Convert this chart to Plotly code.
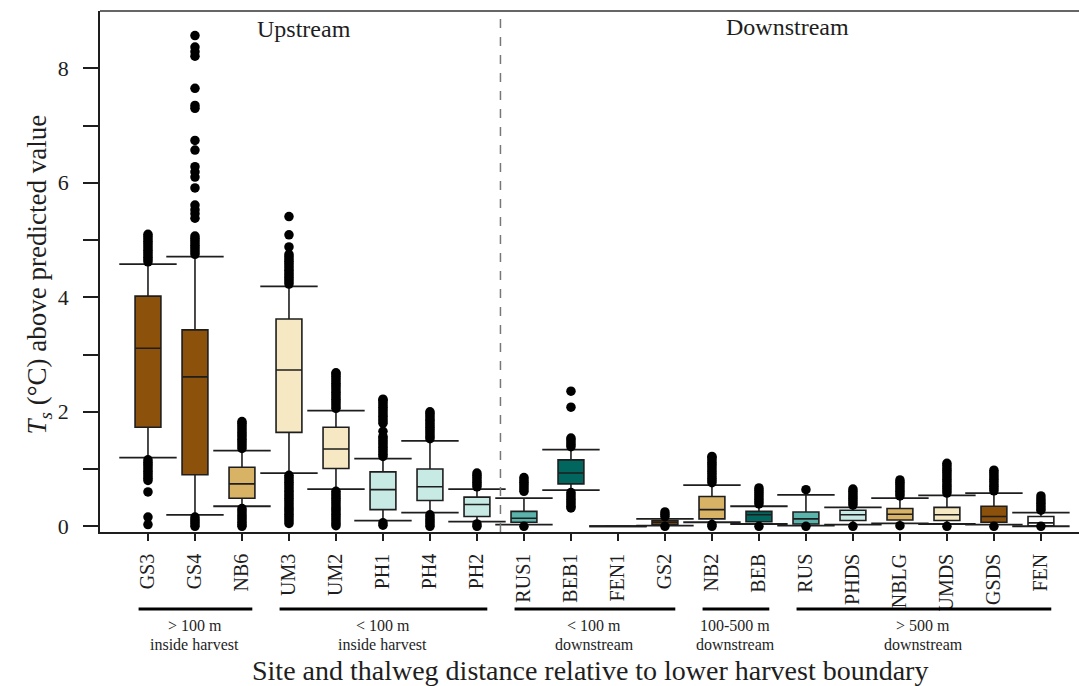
import plotly.graph_objects as go

# ---------------- data ----------------
sites = ["GS3", "GS4", "NB6", "UM3", "UM2", "PH1", "PH4", "PH2",
         "RUS1", "BEB1", "FEN1", "GS2", "NB2", "BEB", "RUS", "PHDS",
         "NBLG", "UMDS", "GSDS", "FEN"]

q1 = [1.73, 0.90, 0.49, 1.64, 1.01, 0.29, 0.45, 0.17,
      0.07, 0.74, 0.00, 0.03, 0.13, 0.08, 0.04, 0.10,
      0.11, 0.10, 0.07, 0.01]
median = [3.11, 2.61, 0.74, 2.73, 1.35, 0.64, 0.69, 0.38,
          0.14, 0.93, 0.00, 0.07, 0.29, 0.20, 0.13, 0.20,
          0.21, 0.20, 0.17, 0.06]
q3 = [4.02, 3.43, 1.03, 3.62, 1.73, 0.95, 1.00, 0.51,
      0.26, 1.16, 0.00, 0.10, 0.52, 0.26, 0.25, 0.28,
      0.31, 0.33, 0.35, 0.17]
upper_whisker = [4.58, 4.71, 1.32, 4.19, 2.02, 1.18, 1.49, 0.65,
                 0.49, 1.34, 0.00, 0.13, 0.72, 0.35, 0.55, 0.33,
                 0.49, 0.54, 0.58, 0.24]
lower_whisker = [1.20, 0.20, 0.35, 0.93, 0.65, 0.10, 0.24, 0.08,
                 0.03, 0.63, 0.00, 0.01, 0.07, 0.04, 0.01, 0.03,
                 0.05, 0.04, 0.03, 0.00]

outliers = {
    "GS3": [4.62, 4.66, 4.70, 4.74, 4.78, 4.82, 4.86, 4.90, 4.94, 4.98, 5.02, 5.06, 5.10,
            1.16, 1.12, 1.08, 1.04, 1.00, 0.96, 0.92, 0.88, 0.84, 0.80, 0.60, 0.16, 0.03],
    "GS4": [4.75, 4.79, 4.83, 4.87, 4.91, 4.95, 4.99, 5.03, 5.07, 5.38, 5.46, 5.53, 5.61,
            5.91, 6.10, 6.19, 6.28, 6.57, 6.74, 7.30, 7.35, 7.65, 8.21, 8.29, 8.37, 8.57,
            0.16, 0.12, 0.08, 0.04, 0.00],
    "NB6": [1.36, 1.40, 1.44, 1.48, 1.52, 1.56, 1.60, 1.64, 1.68, 1.72, 1.76, 1.80, 1.83,
            0.31, 0.27, 0.23, 0.19, 0.15, 0.11, 0.07, 0.03, 0.00],
    "UM3": [4.23, 4.27, 4.31, 4.35, 4.39, 4.43, 4.47, 4.51, 4.55, 4.59, 4.63, 4.67, 4.71,
            4.75, 4.88, 5.09, 5.41,
            0.89, 0.85, 0.81, 0.77, 0.73, 0.69, 0.65, 0.61, 0.57, 0.53, 0.49, 0.45, 0.41,
            0.37, 0.33, 0.29, 0.25, 0.21, 0.17, 0.13, 0.09, 0.05],
    "UM2": [2.06, 2.10, 2.14, 2.18, 2.22, 2.26, 2.30, 2.34, 2.38, 2.42, 2.46, 2.50, 2.54,
            2.58, 2.62, 2.66, 2.68,
            0.61, 0.57, 0.53, 0.49, 0.45, 0.41, 0.37, 0.33, 0.29, 0.25, 0.21, 0.17, 0.13,
            0.09, 0.05, 0.01],
    "PH1": [1.22, 1.26, 1.30, 1.34, 1.38, 1.42, 1.46, 1.50, 1.54, 1.57, 1.66,
            1.80, 1.84, 1.88, 1.92, 1.96, 2.00, 2.04, 2.08, 2.12, 2.16, 2.20, 2.22,
            0.06, 0.02],
    "PH4": [1.53, 1.57, 1.61, 1.65, 1.69, 1.73, 1.77, 1.81, 1.85, 1.89, 1.93, 1.97, 2.00,
            0.20, 0.16, 0.12, 0.08, 0.04, 0.00],
    "PH2": [0.69, 0.73, 0.77, 0.81, 0.85, 0.89, 0.93, 0.04, 0.00],
    "RUS1": [0.61, 0.65, 0.69, 0.73, 0.77, 0.81, 0.85, 0.00],
    "BEB1": [1.39, 1.43, 1.47, 1.51, 1.54, 2.08, 2.36,
             0.59, 0.55, 0.51, 0.47, 0.43, 0.39, 0.35, 0.32],
    "FEN1": [],
    "GS2": [0.17, 0.21, 0.25, 0.00],
    "NB2": [0.76, 0.80, 0.84, 0.88, 0.92, 0.96, 1.00, 1.04, 1.08, 1.12, 1.16, 1.20, 1.22,
            0.03, 0.00],
    "BEB": [0.39, 0.43, 0.47, 0.51, 0.55, 0.59, 0.63, 0.67, 0.00],
    "RUS": [0.64, 0.00],
    "PHDS": [0.37, 0.41, 0.45, 0.49, 0.53, 0.57, 0.61, 0.65, 0.00],
    "NBLG": [0.53, 0.57, 0.61, 0.65, 0.69, 0.73, 0.77, 0.81, 0.01],
    "UMDS": [0.58, 0.62, 0.66, 0.70, 0.74, 0.78, 0.82, 0.86, 0.90, 0.94, 0.98, 1.02,
             1.06, 1.10, 0.00],
    "GSDS": [0.62, 0.66, 0.70, 0.74, 0.78, 0.82, 0.86, 0.90, 0.94, 0.98, 0.00],
    "FEN": [0.28, 0.32, 0.36, 0.40, 0.44, 0.48, 0.53, 0.00],
}

site_colors = ["#8c510a", "#8c510a", "#d8b365", "#f6e8c3", "#f6e8c3", "#c7eae5", "#c7eae5", "#c7eae5",
               "#5ab4ac", "#01665e", "#ffffff", "#8c510a", "#d8b365", "#01665e", "#5ab4ac", "#c7eae5",
               "#d8b365", "#f6e8c3", "#8c510a", "#ffffff"]

y_major_ticks = [0, 2, 4, 6, 8]
y_major_labels = ["0", "2", "4", "6", "8"]
y_minor_ticks = [1, 3, 5, 7]

# groups: (line1, line2, first index, last index)
groups = [("&gt; 100 m", "inside harvest", 0, 2),
          ("&lt; 100 m", "inside harvest", 3, 7),
          ("&lt; 100 m", "downstream", 8, 11),
          ("100-500 m", "downstream", 12, 13),
          ("&gt; 500 m", "downstream", 14, 19)]

FONT = "Liberation Serif, Times New Roman, serif"
INK = "#1e1e1e"

# ---------------- figure ----------------
fig = go.Figure()
xs = list(range(len(sites)))

for i, name in enumerate(sites):
    fig.add_trace(go.Box(
        x=[i], q1=[q1[i]], median=[median[i]], q3=[q3[i]],
        lowerfence=[lower_whisker[i]], upperfence=[upper_whisker[i]],
        fillcolor=site_colors[i], line=dict(color=INK, width=1.6),
        width=0.55, whiskerwidth=0, boxpoints=False, name=name,
        showlegend=False, hoverinfo="skip",
    ))

# whisker caps
fig.add_trace(go.Scatter(
    x=xs + xs, y=lower_whisker + upper_whisker, mode="markers",
    marker=dict(symbol="line-ew", size=41, line=dict(color=INK, width=1.8)),
    showlegend=False, hoverinfo="skip",
))

# outliers
ox, oy = [], []
for i, name in enumerate(sites):
    for v in outliers[name]:
        ox.append(i)
        oy.append(v)
fig.add_trace(go.Scatter(
    x=ox, y=oy, mode="markers",
    marker=dict(symbol="circle", size=9.5, color="black"),
    showlegend=False, hoverinfo="skip",
))

# dashed separator between upstream and downstream
fig.add_shape(type="line", xref="x", yref="paper", x0=7.5, x1=7.5, y0=0, y1=1,
              line=dict(color="#777777", width=1.5, dash="dash"))
# top frame line
fig.add_shape(type="line", xref="paper", yref="paper", x0=0, x1=1, y0=1, y1=1,
              line=dict(color="#666666", width=2))

# group brackets and labels
for line1, line2, a, b in groups:
    mid = (a + b) / 2
    fig.add_shape(type="line", xref="x", yref="paper", x0=a - 0.2, x1=b + 0.22,
                  y0=-0.148, y1=-0.148, line=dict(color="black", width=3))
    fig.add_annotation(x=mid, xref="x", y=-0.180, yref="paper", text=line1,
                       showarrow=False, font=dict(family=FONT, size=16, color=INK),
                       xanchor="center", yanchor="middle")
    fig.add_annotation(x=mid, xref="x", y=-0.2155, yref="paper", text=line2,
                       showarrow=False, font=dict(family=FONT, size=16, color=INK),
                       xanchor="center", yanchor="middle")

fig.add_annotation(x=3.32, xref="x", y=0.965, yref="paper", text="Upstream",
                   showarrow=False, font=dict(family=FONT, size=24, color=INK),
                   xanchor="center", yanchor="middle")
fig.add_annotation(x=13.6, xref="x", y=0.969, yref="paper", text="Downstream",
                   showarrow=False, font=dict(family=FONT, size=24, color=INK),
                   xanchor="center", yanchor="middle")

fig.add_annotation(x=0.5, xref="paper", y=-0.265, yref="paper",
                   text="Site and thalweg distance relative to lower harvest boundary",
                   showarrow=False, font=dict(family=FONT, size=28, color=INK),
                   xanchor="center", yanchor="middle")
fig.add_annotation(x=-0.062, xref="paper", y=0.495, yref="paper",
                   text="<i>T</i><sub><i>s</i></sub> (°C) above predicted value",
                   textangle=-90, showarrow=False,
                   font=dict(family=FONT, size=27, color=INK),
                   xanchor="center", yanchor="middle")

fig.update_layout(
    width=1079, height=686,
    margin=dict(l=100, r=0, t=11, b=154, autoexpand=False),
    paper_bgcolor="white", plot_bgcolor="white",
    boxmode="overlay", showlegend=False,
    font=dict(family=FONT, color=INK),
    xaxis=dict(range=[-1.021, 19.81], tickmode="array", tickvals=xs, ticktext=sites,
               tickangle=-90, ticks="outside", ticklen=7, tickwidth=1.5, tickcolor=INK,
               showline=True, linecolor=INK, linewidth=1.5, showgrid=False,
               zeroline=False, tickfont=dict(family=FONT, size=20, color=INK),
               ticklabelstandoff=5, automargin=False),
    yaxis=dict(range=[-0.1, 9.0], tickmode="array", tickvals=y_major_ticks,
               ticktext=y_major_labels, ticks="outside", ticklen=15, tickwidth=1.5,
               tickcolor=INK, showline=True, linecolor=INK, linewidth=1.5,
               showgrid=False, zeroline=False,
               minor=dict(tickmode="array", tickvals=y_minor_ticks, ticks="outside",
                          ticklen=15, tickwidth=1.5, tickcolor=INK, showgrid=False),
               tickfont=dict(family=FONT, size=22, color=INK),
               ticklabelstandoff=10, automargin=False),
)

fig.write_html("out.html", config={"displayModeBar": False},
               post_script="document.body.style.margin='0';document.body.style.overflow='hidden';")
